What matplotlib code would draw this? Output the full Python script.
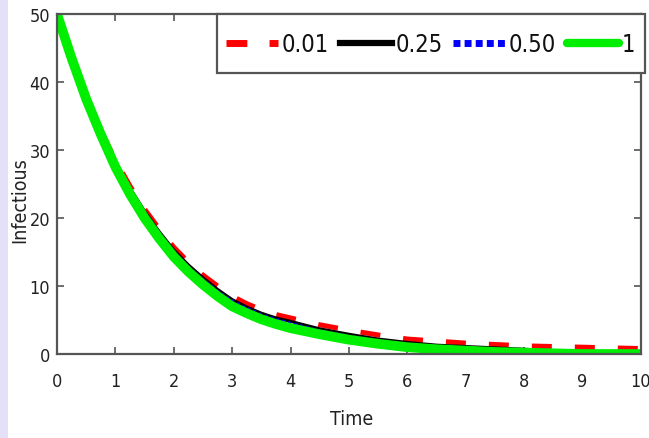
import matplotlib
matplotlib.use("Agg")
import matplotlib.pyplot as plt
from matplotlib.patches import Rectangle

t = [0, 0.25, 0.5, 0.75, 1, 1.25, 1.5, 1.75, 2, 2.25, 2.5, 2.75, 3, 3.25, 3.5, 3.75, 4,
     4.5, 5, 5.5, 6, 6.5, 7, 7.5, 8, 8.5, 9, 9.5, 10]
red_001 = [50, 43.8, 38.0, 32.9, 28.5, 24.7, 21.3, 18.4, 15.7, 13.5, 11.6, 10.0, 8.5, 7.4, 6.5, 5.8, 5.3,
           4.3, 3.5, 2.8, 2.2, 1.9, 1.6, 1.4, 1.2, 1.1, 1.0, 0.9, 0.8]
black_025 = [50, 43.7, 37.8, 32.7, 28.2, 24.4, 21.0, 18.0, 15.3, 13.1, 11.2, 9.5, 8.0, 6.9, 6.0, 5.3, 4.8,
             3.7, 2.9, 2.2, 1.7, 1.3, 1.1, 0.9, 0.7, 0.5, 0.4, 0.3, 0.3]
blue_050 = [50, 43.6, 37.7, 32.5, 28.0, 24.2, 20.7, 17.7, 15.0, 12.8, 10.9, 9.2, 7.8, 6.7, 5.8, 5.1, 4.5,
            3.4, 2.6, 1.9, 1.4, 1.0, 0.8, 0.6, 0.5, 0.4, 0.3, 0.2, 0.2]
green_1 = [50, 43.5, 37.5, 32.3, 27.5, 23.5, 20.0, 17.0, 14.3, 12.1, 10.2, 8.5, 7.0, 6.0, 5.1, 4.4, 3.8,
           2.9, 2.1, 1.5, 1.0, 0.7, 0.5, 0.3, 0.2, 0.1, 0.0, 0.0, 0.0]
labels = ["0.01", "0.25", "0.50", "1"]
xticks = list(range(0, 11))
yticks = [0, 10, 20, 30, 40, 50]

fam = ["Liberation Sans Narrow", "DejaVu Sans", "Liberation Sans"]
plt.rcParams["font.family"] = fam
plt.rcParams["font.stretch"] = "condensed"

fig = plt.figure(figsize=(6.49, 4.39), dpi=100)
fig.patches.append(Rectangle((0, 0), 8 / 649, 1, transform=fig.transFigure,
                             facecolor="#e4e0f8", edgecolor="none", zorder=0))
ax = fig.add_axes([57 / 649, (439 - 355) / 439, (641 - 57) / 649, (355 - 15) / 439])

ax.plot(t, red_001, color="#ff0000", lw=3.6, ls=(0, (4, 4.6)), label=labels[0])
ax.plot(t, black_025, color="black", lw=2.2, ls="-", label=labels[1])
ax.plot(t, blue_050, color="#0000ff", lw=2.2, ls=(0, (1, 1)), label=labels[2])
ax.plot(t, green_1, color="#00ee00", lw=7, ls="-", label=labels[3], solid_capstyle="round")

ax.set_xlim(0, 10)
ax.set_ylim(0, 50)
ax.set_xticks(xticks)
ax.set_yticks(yticks)
ax.tick_params(direction="in", length=5, width=1.2, color="#555555",
               labelsize=13, labelcolor="#222222", top=True, right=True,
               labeltop=False, labelright=False)
ax.tick_params(axis="x", pad=13)
ax.tick_params(axis="y", pad=5)
for s in ax.spines.values():
    s.set_color("#555555")
    s.set_linewidth(1.6)

ax.set_xlabel("Time", fontsize=14, color="#222222")
ax.set_ylabel("Infectious", fontsize=14, color="#222222")
ax.xaxis.set_label_coords((352 - 57) / 584, -(420 - 355) / 340)
ax.yaxis.set_label_coords(-(57 - 20) / 584, (355 - 200) / 340)
ax.xaxis.label.set_va("center")
ax.yaxis.label.set_va("center")

leg = ax.legend(ncol=4, loc="upper right", bbox_to_anchor=(645 / 649, 1 - 15 / 439),
                bbox_transform=fig.transFigure, fontsize=17, frameon=True,
                fancybox=False, framealpha=1, edgecolor="#555555", handlelength=2.2,
                handleheight=2.25, handletextpad=0.15, columnspacing=0.45, borderpad=0.4,
                borderaxespad=0)
leg.get_frame().set_linewidth(1.6)
for txt in leg.get_texts():
    txt.set_color("#111111")
hs = leg.legend_handles
hs[0].set_linewidth(5)
hs[0].set_linestyle((0, (3, 3.2)))
hs[1].set_linewidth(4.5)
hs[2].set_linewidth(5)
hs[2].set_linestyle((0, (1, 0.6)))
hs[3].set_linewidth(6)
for h in hs:
    yd = h.get_ydata()
    h.set_ydata([y - 4.3 for y in yd])

fig.savefig("out.png", dpi=100)
